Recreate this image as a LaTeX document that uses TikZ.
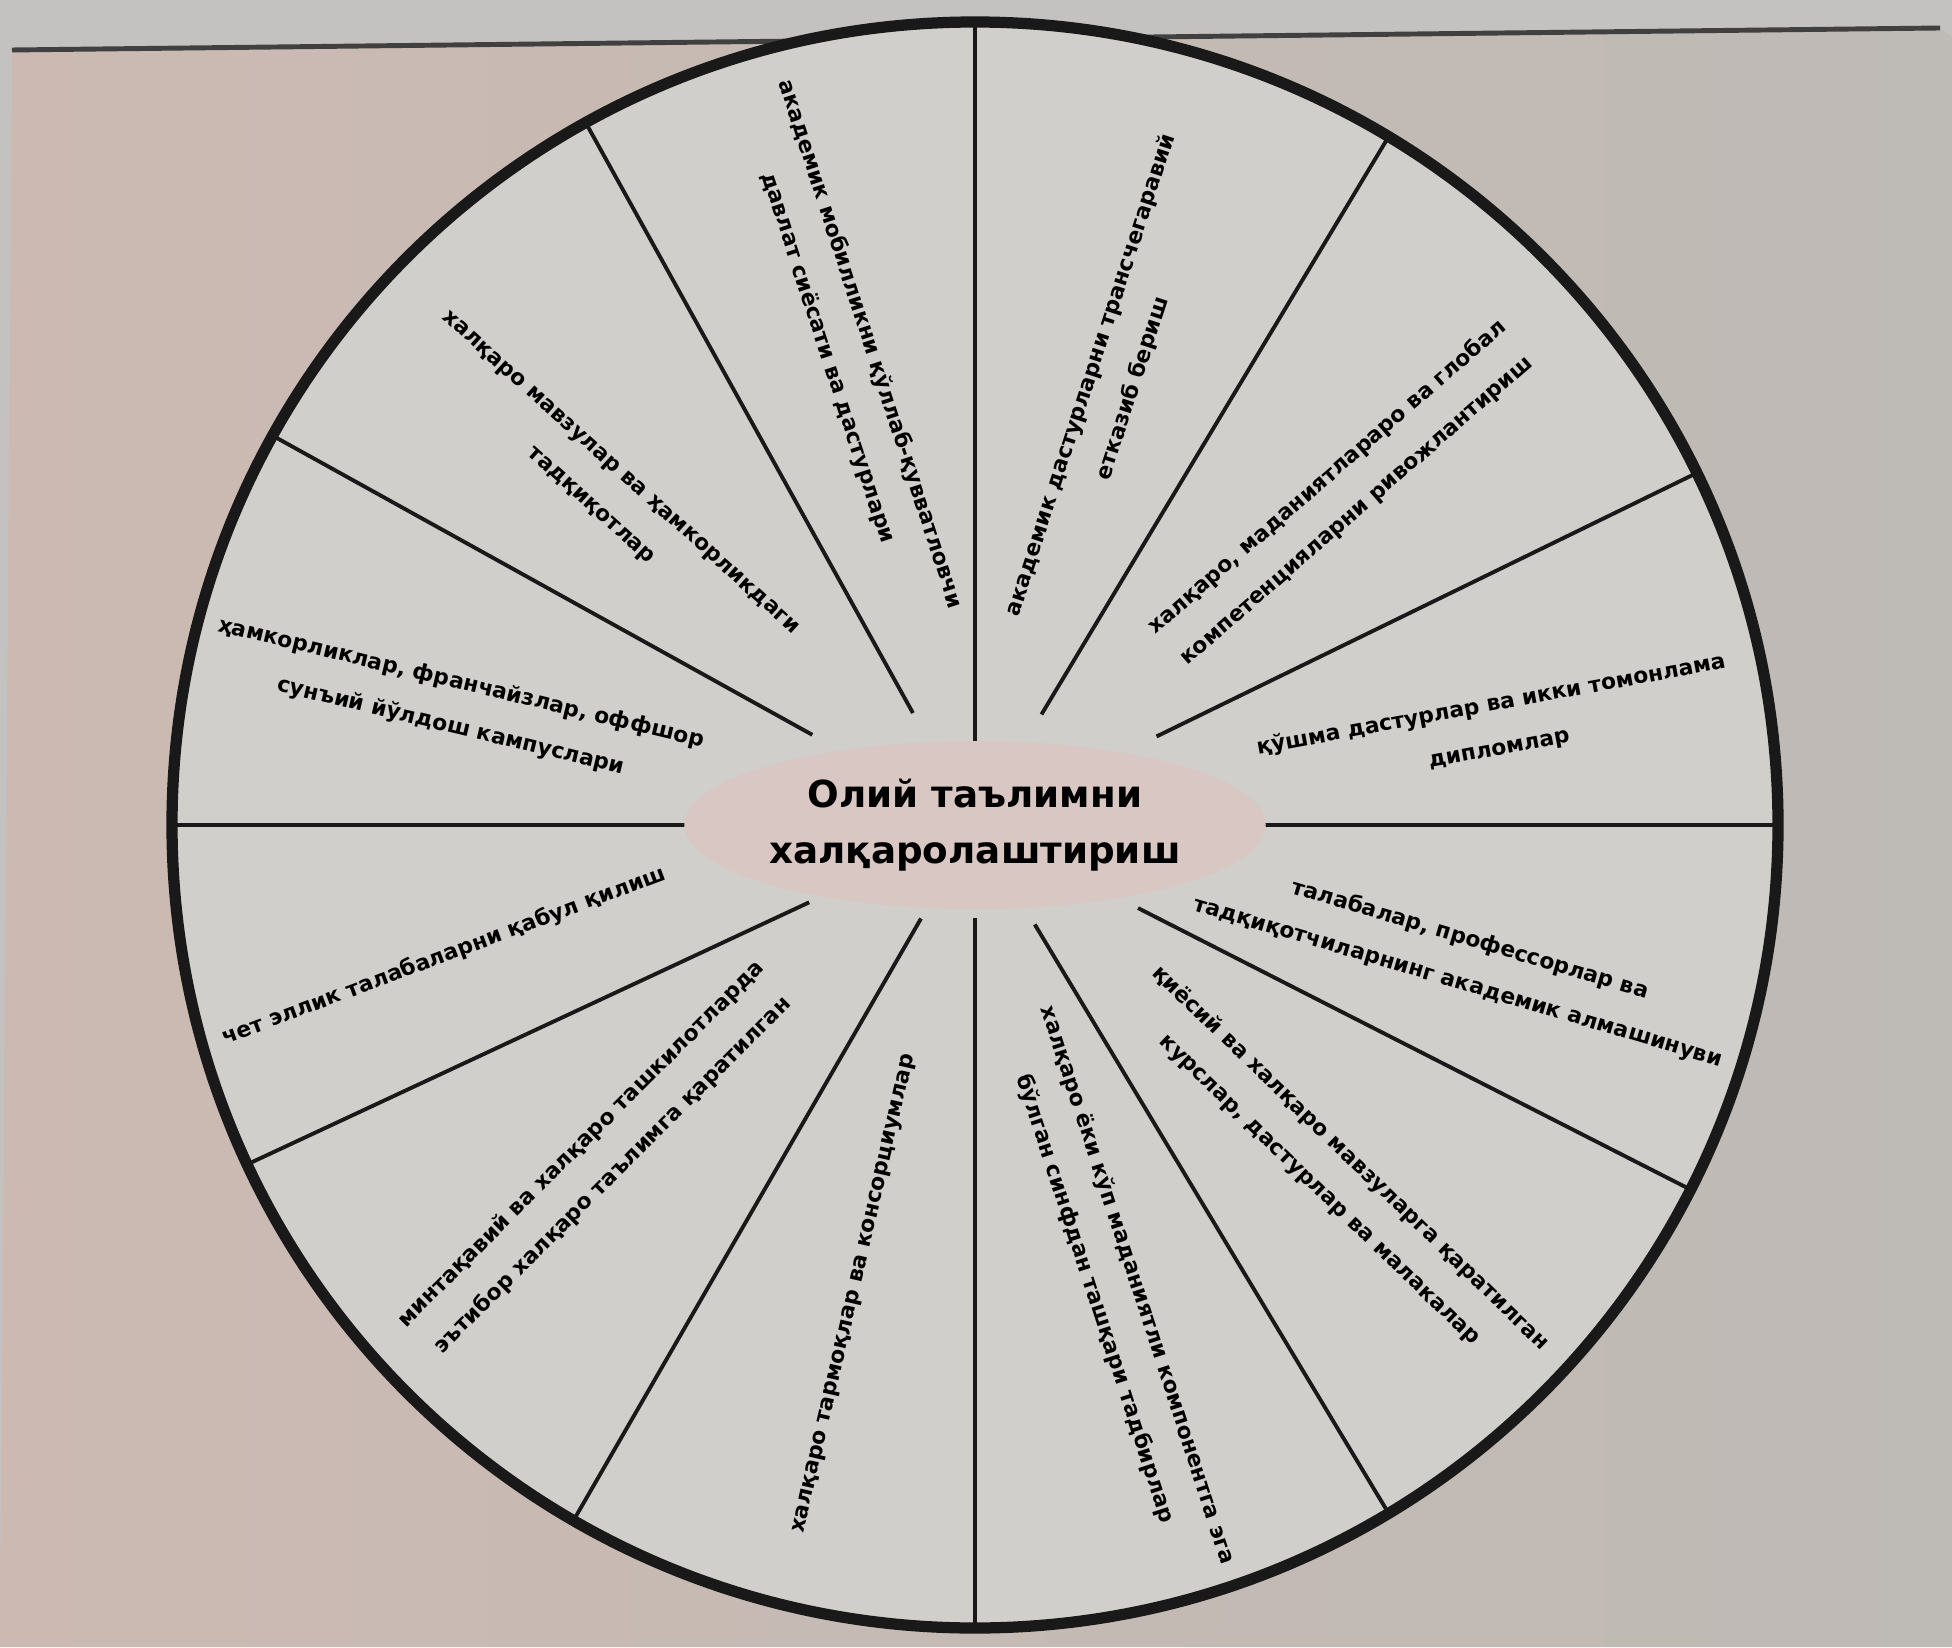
\documentclass[tikz,border=0pt]{standalone}
\usepackage{fontspec}
\setmainfont{DejaVu Sans}
\usetikzlibrary{shapes.geometric}

\definecolor{stripgray}{RGB}{196,194,192}
\definecolor{pageleft}{RGB}{204,186,178}
\definecolor{pageright}{RGB}{190,186,182}
\definecolor{wheelgray}{RGB}{209,207,203}
\definecolor{hubpink}{RGB}{216,199,195}

\begin{document}
\begin{tikzpicture}[
  x=1cm,
  y=1cm,
  rim/.style={draw=black!90, fill=wheelgray, line width=3.2pt},
  spoke/.style={draw=black!90, line width=1.1pt},
  hub/.style={
    ellipse,
    fill=hubpink,
    minimum width=5.54cm,
    minimum height=1.68cm,
    inner sep=0pt,
    align=center,
    font=\fontsize{10.6}{16}\selectfont\bfseries
  },
  sector/.style={
    align=center,
    inner sep=0pt,
    font=\fontsize{6.2}{12.6}\selectfont\bfseries
  }
]

\useasboundingbox (0,0) rectangle (19.52,16.47);

% ---------------------------------------------------------------------------
% Photo background: strip above the page and the page itself
% ---------------------------------------------------------------------------
\fill[stripgray] (0,0) rectangle (19.52,16.47);
\shade[left color=pageleft, right color=pageright]
  (0,0) -- (0.12,15.97) -- (19.40,16.19) -- (19.52,16.10) -- (19.52,0) -- cycle;
\draw[black!75, line width=1.4pt] (0.12,15.97) -- (19.40,16.19);

% ---------------------------------------------------------------------------
% Wheel: rim, twelve spokes, hub
% ---------------------------------------------------------------------------
\coordinate (c) at (9.75,8.22);
\draw[rim] (c) circle[radius=8.03];

\foreach \ang/\rin in {90/0.72, 59/1.29, 26/2.02, 0/2.89, -27/1.83, -59/1.16,
                       -90/0.93, -120/1.08, -155/1.83, 180/2.84, 151/1.86, 119/1.28}
  \draw[spoke, shift={(c)}] (\ang:\rin) -- (\ang:8.03);

\node[hub] (hub) at (c) {Олий таълимни\\халқаролаштириш};

% ---------------------------------------------------------------------------
% Sector labels, clockwise from the top
% ---------------------------------------------------------------------------
\node[sector, rotate=72] (crossborder) at (11.12,12.65)
  {академик дастурларни трансчегаравий\\етказиб бериш};
\node[sector, rotate=41] (competence) at (13.42,11.53)
  {халқаро, маданиятлараро ва глобал\\компетенцияларни ривожлантириш};
\node[sector, rotate=10.5] (jointdeg) at (14.95,9.20)
  {қўшма дастурлар ва икки томонлама\\дипломлар};
\node[sector, rotate=-16.5] (exchange) at (14.64,6.86)
  {талабалар, профессорлар ва\\тадқиқотчиларнинг академик алмашинуви};
\node[sector, rotate=-44] (courses) at (13.35,4.73)
  {қиёсий ва халқаро мавзуларга қаратилган\\курслар, дастурлар ва малакалар};
\node[sector, rotate=-72] (extracurr) at (11.16,3.55)
  {халқаро ёки кўп маданиятли компонентга эга\\бўлган синфдан ташқари тадбирлар};
\node[sector, rotate=77] (networks) at (8.55,3.53)
  {халқаро тармоқлар ва консорциумлар};
\node[sector, rotate=45] (regional) at (5.97,4.87)
  {минтақавий ва халқаро ташкилотларда\\эътибор халқаро таълимга қаратилган};
\node[sector, rotate=20.5] (recruit) at (4.44,6.91)
  {чет эллик талабаларни қабул қилиш};
\node[sector, rotate=-13.5] (campuses) at (4.56,9.42)
  {ҳамкорликлар, франчайзлар, оффшор\\сунъий йўлдош кампуслари};
\node[sector, rotate=-42] (research) at (6.05,11.57)
  {халқаро мавзулар ва ҳамкорликдаги\\тадқиқотлар};
\node[sector, rotate=-72] (policy) at (8.49,12.96)
  {академик мобилликни қўллаб-қувватловчи\\давлат сиёсати ва дастурлари};

\end{tikzpicture}
\end{document}
